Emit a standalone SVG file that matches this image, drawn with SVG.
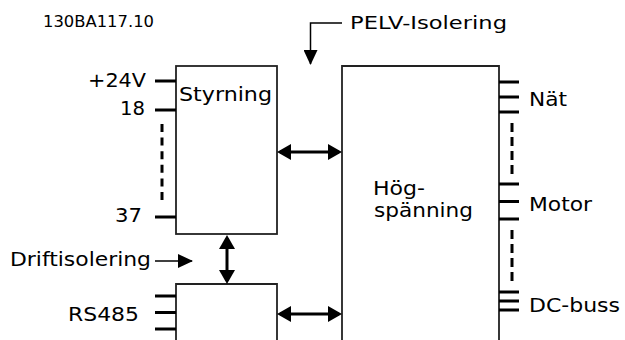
<svg xmlns="http://www.w3.org/2000/svg" width="625" height="340" viewBox="0 0 625 340">
<style>
text{font-family:"DejaVu Sans","Verdana","Liberation Sans",sans-serif;font-size:19px;fill:#000}
.box{fill:#fff;stroke:#222;stroke-width:1.8}
.pin{stroke:#000;stroke-width:3;fill:none}
.dash{stroke:#000;stroke-width:3;fill:none}
.bold{stroke:#000;stroke-width:3;fill:none}
.thin{stroke:#000;stroke-width:1.5;fill:none}
</style>
<defs>
<marker id="ab" viewBox="0 0 14 16" refX="11" refY="8" markerWidth="14" markerHeight="16" markerUnits="userSpaceOnUse" orient="auto-start-reverse"><path d="M0,0L14,8L0,16z" fill="#000"/></marker>
<marker id="at" viewBox="0 0 15 14" refX="14" refY="7" markerWidth="15" markerHeight="14" markerUnits="userSpaceOnUse" orient="auto"><path d="M0,0L15,7L0,14z" fill="#000"/></marker>
</defs>
<rect width="625" height="340" fill="#fff"/>
<text x="43" y="27" style="font-size:15px" textLength="111" lengthAdjust="spacingAndGlyphs">130BA117.10</text>

<g id="styrning">
<rect class="box" x="176" y="66" width="101" height="168"/>
<text x="179" y="101" textLength="93" lengthAdjust="spacingAndGlyphs">Styrning</text>
<path class="pin" d="M155,81H176M155,110H176M155,217H176"/>
<path class="dash" d="M162,124V200" stroke-dasharray="8 5.6"/>
<text x="88" y="87" textLength="58" lengthAdjust="spacingAndGlyphs">+24V</text>
<text x="120" y="115" textLength="25" lengthAdjust="spacingAndGlyphs">18</text>
<text x="115" y="222" textLength="27" lengthAdjust="spacingAndGlyphs">37</text>
</g>

<g id="rs485">
<path class="box" d="M176,345V284H277V345"/>
<path class="pin" d="M155,296H176M155,312.5H176M155,329H176"/>
<text x="68" y="321" textLength="71" lengthAdjust="spacingAndGlyphs">RS485</text>
</g>

<g id="hogspanning">
<path class="box" d="M342,345V66H499V345"/>
<text x="373" y="195" textLength="52" lengthAdjust="spacingAndGlyphs">Hög-</text>
<text x="374" y="217" textLength="99" lengthAdjust="spacingAndGlyphs">spänning</text>
<path class="pin" d="M499,82H519M499,97H519M499,112H519"/>
<path class="pin" d="M499,184H519M499,201.5H519M499,219H519"/>
<path class="pin" d="M499,292H519M499,301H519M499,310H519"/>
<path class="dash" d="M512,123V174M512,230V281" stroke-dasharray="9 5"/>
<text x="529" y="106" textLength="38" lengthAdjust="spacingAndGlyphs">Nät</text>
<text x="529" y="211" textLength="63" lengthAdjust="spacingAndGlyphs">Motor</text>
<text x="529" y="312" textLength="91" lengthAdjust="spacingAndGlyphs">DC-buss</text>
</g>

<g id="pelv">
<text x="350" y="29" style="font-size:17px" textLength="157" lengthAdjust="spacingAndGlyphs">PELV-Isolering</text>
</g>

<g id="driftisolering">
<text x="10" y="266" textLength="141" lengthAdjust="spacingAndGlyphs">Driftisolering</text>
</g>

<g id="connectors">
<path class="thin" d="M342,23H310.5V64" marker-end="url(#at)"/>
<path class="thin" d="M155,261H192" marker-end="url(#at)"/>
<path class="bold" d="M280,152H339" marker-start="url(#ab)" marker-end="url(#ab)"/>
<path class="bold" d="M280,314H339" marker-start="url(#ab)" marker-end="url(#ab)"/>
<path class="bold" d="M227,238V281" marker-start="url(#ab)" marker-end="url(#ab)"/>
</g>
</svg>
